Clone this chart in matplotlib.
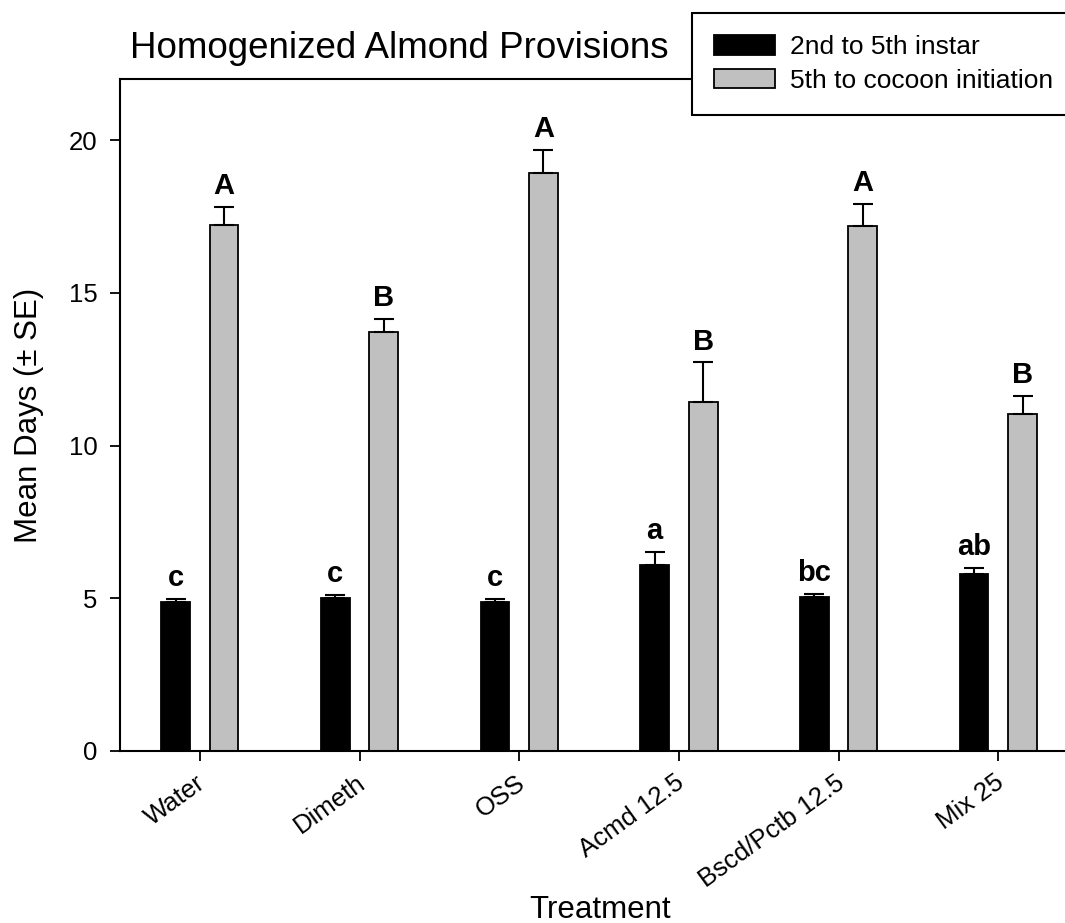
import matplotlib
matplotlib.use("Agg")
import matplotlib.pyplot as plt
import matplotlib.transforms as mtransforms
import numpy as np

plt.rcParams['font.family'] = ['Liberation Sans', 'DejaVu Sans']

categories = ["Water", "Dimeth", "OSS", "Acmd 12.5", "Bscd/Pctb 12.5", "Mix 25"]
instar_mean = [4.89, 5.00, 4.89, 6.09, 5.03, 5.79]
instar_se = [0.08, 0.10, 0.08, 0.43, 0.10, 0.20]
cocoon_mean = [17.21, 13.72, 18.93, 11.43, 17.20, 11.02]
cocoon_se = [0.60, 0.42, 0.74, 1.29, 0.72, 0.61]
instar_letters = ["c", "c", "c", "a", "bc", "ab"]
cocoon_letters = ["A", "B", "A", "B", "A", "B"]
series_names = ["2nd to 5th instar", "5th to cocoon initiation"]

W, H = 1065, 923
fig = plt.figure(figsize=(W / 100, H / 100), dpi=100)
ax = fig.add_axes([120 / W, (H - 751) / H, 1 - 120 / W, (751 - 79) / H])

x = np.arange(len(categories))
bw = 0.18
off = 0.152
ekw = dict(elinewidth=1.5, capthick=1.5, ecolor='black')
b1 = ax.bar(x - off, instar_mean, bw, color='black', edgecolor='black', linewidth=1.3,
            label=series_names[0])
ax.errorbar(x - off, instar_mean, yerr=[np.zeros(len(x)), instar_se], fmt='none',
            capsize=7.5, **ekw)
b2 = ax.bar(x + off, cocoon_mean, bw, color='#c0c0c0', edgecolor='black', linewidth=1.3,
            label=series_names[1])
ax.errorbar(x + off, cocoon_mean, yerr=[np.zeros(len(x)), cocoon_se], fmt='none',
            capsize=7.5, **ekw)

for i in range(len(x)):
    ax.annotate(instar_letters[i], (x[i] - off, instar_mean[i] + instar_se[i]),
                xytext=(0, 5), textcoords='offset points', ha='center', va='bottom',
                fontsize=21, fontweight='bold')
    ax.annotate(cocoon_letters[i], (x[i] + off, cocoon_mean[i] + cocoon_se[i]),
                xytext=(0, 5), textcoords='offset points', ha='center', va='bottom',
                fontsize=21, fontweight='bold')

ax.set_xlim(-0.5, 5.418)
ax.set_ylim(0, 22)
ax.set_yticks([0, 5, 10, 15, 20])
ax.set_xticks(x)
ax.set_xticklabels(categories, rotation=36, ha='right', va='top', rotation_mode='anchor')
ax.tick_params(axis='both', direction='out', length=7, width=1.3, labelsize=18.5)
ax.tick_params(axis='y', pad=9)
ax.tick_params(axis='x', pad=7)
shift = mtransforms.ScaledTranslation(-3 / 72, 0, fig.dpi_scale_trans)
for lbl in ax.get_xticklabels():
    lbl.set_transform(lbl.get_transform() + shift)
for s in ['left', 'bottom', 'top']:
    ax.spines[s].set_linewidth(1.5)
ax.spines['right'].set_visible(False)

ax.set_ylabel("Mean Days (± SE)", fontsize=22.5)
ax.yaxis.set_label_coords((44 - 120) / (W - 120), 0.5)
fig.text(600 / W, (H - 918) / H, "Treatment", fontsize=22.5, ha='center', va='baseline')
fig.text(130 / W, (H - 58) / H, "Homogenized Almond Provisions", fontsize=26.5,
         ha='left', va='baseline')

leg = fig.legend(handles=[b1, b2], labels=series_names,
                 loc='upper left', bbox_to_anchor=(692 / W, (H - 13) / H),
                 fontsize=19, frameon=True, fancybox=False, framealpha=1,
                 edgecolor='black', handlelength=2.3, handleheight=0.76,
                 borderpad=0.85, labelspacing=0.36, handletextpad=0.55,
                 borderaxespad=0)
leg.get_frame().set_linewidth(1.5)

fig.savefig("out.png", dpi=100)
